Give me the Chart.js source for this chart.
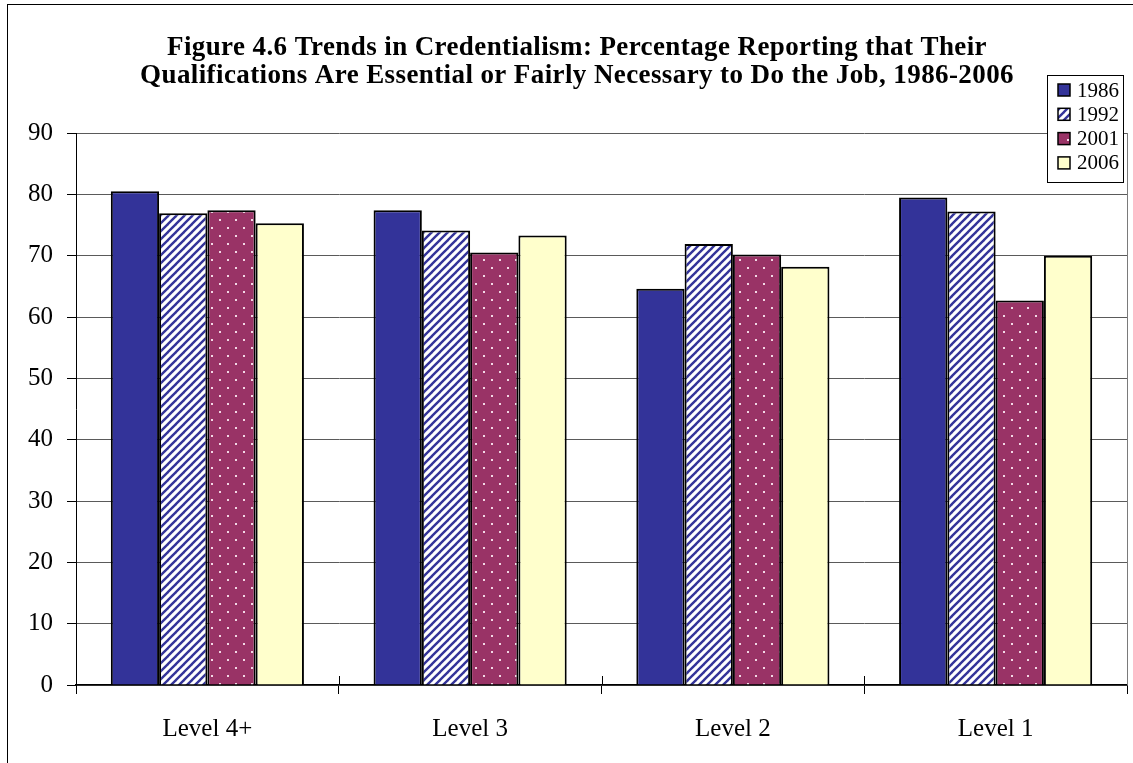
<!DOCTYPE html>
<html>
<head>
<meta charset="utf-8">
<script src="https://cdn.jsdelivr.net/npm/chart.js@4.4.1/dist/chart.umd.min.js"></script>
<style>
  html, body { margin: 0; padding: 0; background: #fff; }
</style>
</head>
<body>
<canvas id="chart" width="1133" height="763"></canvas>
<script>
// ---- data ----
const categories = ['Level 4+', 'Level 3', 'Level 2', 'Level 1'];
const years = ['1986', '1992', '2001', '2006'];
const values1986 = [80.5, 77.4, 64.6, 79.5];
const values1992 = [76.9, 74.1, 71.9, 77.2];
const values2001 = [77.4, 70.5, 70.2, 62.7];
const values2006 = [75.3, 73.3, 68.2, 70.0];
const yTicks = [0, 10, 20, 30, 40, 50, 60, 70, 80, 90];
const titleLines = [
    'Figure 4.6 Trends in Credentialism: Percentage Reporting that Their',
    'Qualifications Are Essential or Fairly Necessary to Do the Job, 1986-2006'
];

const SERIF = '"Liberation Serif", "Times New Roman", serif';
const ctx = document.getElementById('chart').getContext('2d');

// fill patterns like the old Excel chart
function stripePattern() {
    const c = document.createElement('canvas');
    c.width = c.height = 8;
    const g = c.getContext('2d');
    g.fillStyle = '#ffffff';
    g.fillRect(0, 0, 8, 8);
    g.strokeStyle = '#333399';
    g.lineWidth = 2.4;
    [0, 8, 16].forEach(k => {
        // line x + y = k
        g.beginPath();
        g.moveTo(k - 10, 10);
        g.lineTo(k + 10, -10);
        g.stroke();
    });
    return ctx.createPattern(c, 'repeat');
}

function dotPattern() {
    const c = document.createElement('canvas');
    c.width = c.height = 16;
    const g = c.getContext('2d');
    g.fillStyle = '#993366';
    g.fillRect(0, 0, 16, 16);
    g.fillStyle = '#f3d9e6';
    g.fillRect(3, 3, 2, 2);
    g.fillRect(11, 11, 2, 2);
    return ctx.createPattern(c, 'repeat');
}

const fills = ['#333399', stripePattern(), dotPattern(), '#FFFFCC'];
const seriesValues = [values1986, values1992, values2001, values2006];

// ---- plugins ----
const frame = {
    id: 'frame',
    beforeDraw(chart) {
        const g = chart.ctx;
        g.save();
        g.fillStyle = '#fff';
        g.fillRect(0, 0, chart.width, chart.height);
        g.strokeStyle = '#000';
        g.lineWidth = 1;
        g.strokeRect(7.5, 4.5, chart.width + 20, chart.height + 20);
        g.restore();
    },
    afterDraw(chart) {
        const g = chart.ctx;
        const area = chart.chartArea;
        const x = chart.scales.x;
        g.save();
        // plot area right border
        g.strokeStyle = '#7a7a7a';
        g.lineWidth = 1;
        g.beginPath();
        g.moveTo(Math.round(area.right) + 0.5, area.top);
        g.lineTo(Math.round(area.right) + 0.5, area.bottom);
        g.stroke();
        // category tick marks cross the axis
        const step = x.getPixelForValue(1) - x.getPixelForValue(0);
        g.strokeStyle = '#000';
        for (let i = 1; i < categories.length; i++) {
            const px = Math.round(x.getPixelForValue(i) - step / 2) + 0.5;
            g.beginPath();
            g.moveTo(px, area.bottom - 9);
            g.lineTo(px, area.bottom);
            g.stroke();
        }
        // title
        g.fillStyle = '#000';
        g.font = 'bold 27px ' + SERIF;
        g.letterSpacing = '0.4px';
        g.textAlign = 'center';
        g.textBaseline = 'alphabetic';
        g.fillText(titleLines[0], 577, 55);
        g.fillText(titleLines[1], 577, 83);
        g.letterSpacing = '0px';
        // legend
        const bx = 1047.5, by = 75.5, bw = 76, bh = 107;
        g.fillStyle = '#fff';
        g.fillRect(bx, by, bw, bh);
        g.strokeStyle = '#000';
        g.strokeRect(bx, by, bw, bh);
        g.font = '21px ' + SERIF;
        g.textAlign = 'left';
        g.textBaseline = 'middle';
        years.forEach((yr, i) => {
            const cy = 90 + i * 24.3;
            g.fillStyle = fills[i];
            g.fillRect(1058, cy - 6, 12, 12);
            g.lineWidth = 1.5;
            g.strokeStyle = '#000';
            g.strokeRect(1058, cy - 6, 12, 12);
            g.fillStyle = '#000';
            g.fillText(yr, 1077, cy + 1);
        });
        g.restore();
    }
};

// ---- chart ----
new Chart(ctx, {
    type: 'bar',
    data: {
        labels: categories,
        datasets: years.map((yr, i) => ({
            label: yr,
            data: seriesValues[i],
            backgroundColor: fills[i],
            borderColor: '#000',
            borderWidth: 2,
            categoryPercentage: 0.735,
            barPercentage: 1.0
        }))
    },
    options: {
        responsive: false,
        animation: false,
        layout: { padding: { left: 0, top: 133, right: 6, bottom: 0 } },
        plugins: {
            legend: { display: false },
            title: { display: false },
            tooltip: { enabled: false }
        },
        scales: {
            x: {
                afterFit(s) { s.height = 78; },
                grid: {
                    display: true,
                    drawOnChartArea: false,
                    offset: true,
                    tickLength: 9,
                    tickColor: '#000'
                },
                border: { color: '#000', width: 1.5 },
                ticks: {
                    color: '#000',
                    font: { family: SERIF, size: 25 },
                    padding: 20
                }
            },
            y: {
                min: yTicks[0],
                max: yTicks[yTicks.length - 1],
                afterFit(s) { s.width = 76; },
                afterBuildTicks(s) { s.ticks = yTicks.map(v => ({ value: v })); },
                grid: {
                    color: '#5a5a5a',
                    tickLength: 9,
                    tickColor: '#000'
                },
                border: { color: '#000', width: 1 },
                ticks: {
                    color: '#000',
                    font: { family: SERIF, size: 25 },
                    padding: 14
                }
            }
        }
    },
    plugins: [frame]
});
</script>
</body>
</html>
